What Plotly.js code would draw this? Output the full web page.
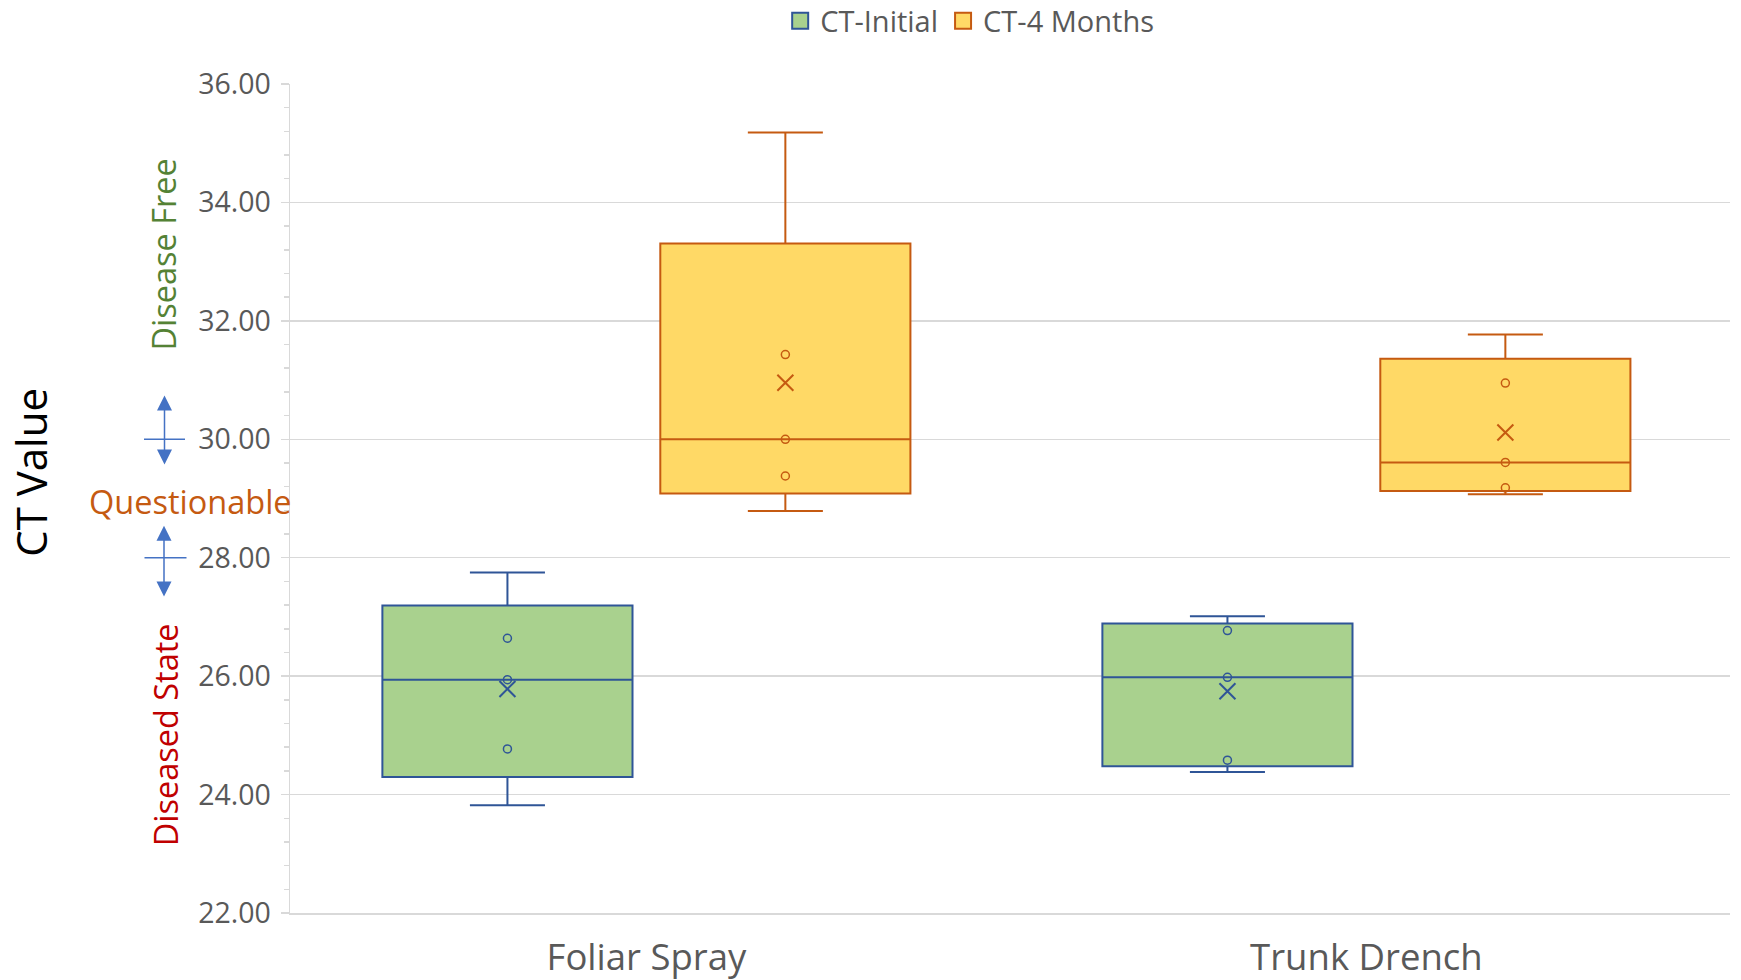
<!DOCTYPE html>
<html>
<head>
<meta charset="utf-8">
<script src="https://cdn.plot.ly/plotly-3.0.1.min.js"></script>
<style>
html,body{margin:0;padding:0;background:#ffffff;}
#chart{width:1741px;height:980px;}
</style>
</head>
<body>
<div id="chart"></div>
<script>
// ---- data ----
const categories = ['Foliar Spray', 'Trunk Drench'];
const seriesNames = ['CT-Initial', 'CT-4 Months'];
const initialFoliar = [23.82, 24.77, 25.94, 26.64, 27.75];
const initialTrunk  = [24.38, 24.58, 25.98, 26.77, 27.01];
const monthsFoliar  = [28.79, 29.38, 30.00, 31.43, 35.18];
const monthsTrunk   = [29.07, 29.18, 29.61, 30.95, 31.77];
const yTickVals = [22, 24, 26, 28, 30, 32, 34, 36];

const FONT = '"Open Sans", "Noto Sans", Arial, sans-serif';
const GREY = '#595959';
const GRID = '#d9d9d9';

const styles = [
  {fill: '#A9D18E', line: '#2F5597', og: 'g1'},
  {fill: '#FFD966', line: '#C55A11', og: 'g2'}
];
const seriesData = [[initialFoliar, initialTrunk], [monthsFoliar, monthsTrunk]];

function mean(a) { return a.reduce((s, v) => s + v, 0) / a.length; }
function inner(a) { const mn = Math.min(...a), mx = Math.max(...a); return a.filter(v => v > mn && v < mx); }

const traces = [];
seriesData.forEach((groups, si) => {
  const st = styles[si];
  const x = [], y = [];
  groups.forEach((vals, ci) => vals.forEach(v => { x.push(categories[ci]); y.push(v); }));
  traces.push({
    type: 'box', name: seriesNames[si], x: x, y: y, legendgroup: st.og, showlegend: false,
    offsetgroup: st.og, alignmentgroup: 'a',
    boxpoints: false, quartilemethod: 'exclusive',
    fillcolor: st.fill, line: {color: st.line, width: 2},
    whiskerwidth: 0.3, hoverinfo: 'skip'
  });
});
// inner points
seriesData.forEach((groups, si) => {
  const st = styles[si];
  const x = [], y = [];
  groups.forEach((vals, ci) => inner(vals).forEach(v => { x.push(categories[ci]); y.push(v); }));
  traces.push({
    type: 'box', x: x, y: y, offsetgroup: st.og, alignmentgroup: 'a',
    boxpoints: 'all', jitter: 0, pointpos: 0, showlegend: false, hoverinfo: 'skip',
    fillcolor: 'rgba(0,0,0,0)', line: {color: 'rgba(0,0,0,0)', width: 0}, whiskerwidth: 0,
    marker: {symbol: 'circle-open', size: 8, color: st.line, line: {width: 1.5, color: st.line}}
  });
});
// mean markers
seriesData.forEach((groups, si) => {
  const st = styles[si];
  const x = [], y = [];
  groups.forEach((vals, ci) => { x.push(categories[ci]); y.push(mean(vals)); });
  traces.push({
    type: 'box', x: x, y: y, offsetgroup: st.og, alignmentgroup: 'a',
    boxpoints: 'all', jitter: 0, pointpos: 0, showlegend: false, hoverinfo: 'skip',
    fillcolor: 'rgba(0,0,0,0)', line: {color: 'rgba(0,0,0,0)', width: 0}, whiskerwidth: 0,
    marker: {symbol: 'x-thin-open', size: 16, color: st.line, line: {width: 2, color: st.line}}
  });
});
// legend entries (square swatches like the reference)
seriesNames.forEach((nm, si) => {
  const st = styles[si];
  traces.push({
    type: 'scatter', mode: 'markers', name: nm, legendgroup: st.og,
    x: [null], y: [null], hoverinfo: 'skip',
    marker: {symbol: 'square', size: 16, color: st.fill, line: {color: st.line, width: 2}}
  });
});

const ARROW = '#4472C4';
function px2paper(px) { return (px - 290) / 1440; }

const annotations = [
  {text: 'CT Value', xref: 'paper', yref: 'paper', x: px2paper(31), y: 0.531, textangle: -90,
   showarrow: false, xanchor: 'center', yanchor: 'middle', font: {family: FONT, size: 42, color: '#000000'}},
  {text: 'Disease Free', xref: 'paper', yref: 'y', x: px2paper(164), y: 33.12, textangle: -90,
   showarrow: false, xanchor: 'center', yanchor: 'middle', font: {family: FONT, size: 32.5, color: '#548235'}},
  {text: 'Questionable', xref: 'paper', yref: 'y', x: px2paper(190), y: 28.95,
   showarrow: false, xanchor: 'center', yanchor: 'middle', font: {family: FONT, size: 32.5, color: '#C55A11'}},
  {text: 'Diseased State', xref: 'paper', yref: 'y', x: px2paper(165), y: 25.0, textangle: -90,
   showarrow: false, xanchor: 'center', yanchor: 'middle', font: {family: FONT, size: 32.5, color: '#C00000'}},
  {text: '', xref: 'paper', yref: 'y', x: px2paper(164.5), y: 30.74, axref: 'pixel', ayref: 'y', ax: 0, ay: 29.55,
   showarrow: true, arrowside: 'end+start', arrowhead: 2, startarrowhead: 2, arrowsize: 2, startarrowsize: 2,
   arrowwidth: 1.5, arrowcolor: ARROW, standoff: 0, startstandoff: 0},
  {text: '', xref: 'paper', yref: 'y', x: px2paper(164), y: 28.54, axref: 'pixel', ayref: 'y', ax: 0, ay: 27.32,
   showarrow: true, arrowside: 'end+start', arrowhead: 2, startarrowhead: 2, arrowsize: 2, startarrowsize: 2,
   arrowwidth: 1.5, arrowcolor: ARROW, standoff: 0, startstandoff: 0}
];

const shapes = [
  {type: 'line', xref: 'paper', yref: 'y', x0: px2paper(144), x1: px2paper(185), y0: 30, y1: 30,
   line: {color: ARROW, width: 1.5}},
  {type: 'line', xref: 'paper', yref: 'y', x0: px2paper(144.5), x1: px2paper(186.5), y0: 28, y1: 28,
   line: {color: ARROW, width: 1.5}}
];

const layout = {
  width: 1741, height: 980,
  paper_bgcolor: '#ffffff', plot_bgcolor: '#ffffff',
  margin: {l: 290, r: 11, t: 84, b: 67, autoexpand: false},
  font: {family: FONT, color: GREY},
  boxmode: 'group', boxgap: 0.228, boxgroupgap: 0.1,
  hovermode: false,
  showlegend: true,
  legend: {orientation: 'h', x: 0.472, xanchor: 'center', y: 1.076, yanchor: 'middle',
           font: {family: FONT, size: 29, color: GREY}, itemwidth: 30, bgcolor: 'rgba(0,0,0,0)'},
  xaxis: {
    type: 'category', categoryarray: categories, categoryorder: 'array', range: [-0.495, 1.505],
    showgrid: false, zeroline: false, showline: true, linecolor: GRID, linewidth: 1.5,
    ticks: '', ticklabelstandoff: 12,
    tickfont: {family: FONT, size: 36.5, color: GREY}
  },
  yaxis: {
    range: [22, 36], tickvals: yTickVals, tickformat: '.2f',
    showgrid: true, gridcolor: GRID, gridwidth: 1.5, zeroline: false,
    showline: true, linecolor: GRID, linewidth: 1.5,
    ticks: 'outside', ticklen: 8, tickcolor: GRID, tickwidth: 1.5, ticklabelstandoff: 4,
    minor: {dtick: 0.4, tick0: 22, ticks: 'outside', ticklen: 5, tickcolor: GRID, tickwidth: 1.5, showgrid: false},
    tickfont: {family: FONT, size: 28.5, color: GREY}
  },
  annotations: annotations,
  shapes: shapes
};

Plotly.newPlot('chart', traces, layout, {displayModeBar: false, staticPlot: true});
</script>
</body>
</html>
